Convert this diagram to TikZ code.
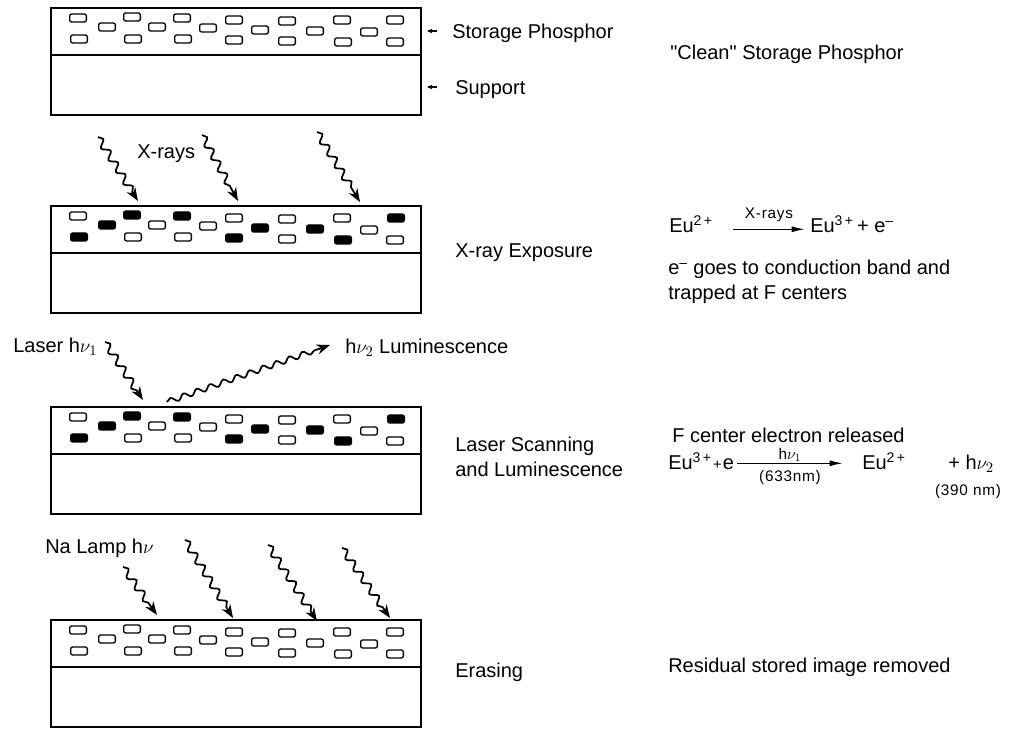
\documentclass[tikz,border=0pt]{standalone}
\usepackage{fontspec}
\setmainfont{Liberation Sans}
\usetikzlibrary{arrows.meta, positioning, calc, decorations.pathmorphing}

\newcommand{\cleangrains}{27/10/gopen, 81/9/gopen, 131/10/gopen, 183/12/gopen, 236/13/gopen, 291/12/gopen, 344/12/gopen,
  56/19/gopen, 106/19/gopen, 157/20/gopen, 209/22/gopen, 264/23/gopen, 318/24/gopen,
  28/31/gopen, 82/31/gopen, 132/31/gopen, 183/32/gopen, 236/33/gopen, 292/34/gopen, 344/34/gopen}
\newcommand{\litgrains}{27/10/gopen, 81/9/gfull, 131/10/gfull, 183/12/gopen, 236/13/gopen, 291/12/gopen, 345/12/gfull,
  56/19/gfull, 106/19/gopen, 157/20/gopen, 209/22/gfull, 264/23/gfull, 318/24/gopen,
  28/31/gfull, 82/31/gopen, 132/31/gopen, 183/32/gfull, 236/33/gopen, 292/34/gfull, 344/34/gopen}

\newcommand{\phplate}[3]{%
  \node[plate] (#1) at (51,#2) {};
  \draw[layer] ($(#1.north west)+(0,47)$) coordinate (#1-l) -- ($(#1.north east)+(0,47)$) coordinate (#1-r);
  \foreach \gx/\gy/\gs [count=\k] in #3
    \node[\gs] (#1-g\k) at ($(#1.north west)+(\gx,\gy)$) {};
}
\newcommand{\smplus}{\kern1pt{\fontsize{11}{13}\selectfont+}\kern1pt}

\tikzset{
  plate/.style={draw, line width=1.2pt, anchor=north west, minimum width=277.5pt, minimum height=80.25pt, inner sep=0pt, outer sep=0pt},
  layer/.style={line width=1.1pt},
  gopen/.style={draw, line width=1pt, rounded corners=1.5pt, minimum width=12.5pt, minimum height=6pt, inner sep=0pt},
  gfull/.style={gopen, fill=black},
  lbl/.style={inner sep=0pt, anchor=west, font=\fontsize{15}{18}\selectfont, text height=10.8pt, text depth=0pt},
  sml/.style={inner sep=0pt, font=\fontsize{11.5}{13}\selectfont\addfontfeature{LetterSpace=5}},
  ray/.style={line width=1.3pt, decorate, decoration={snake, amplitude=2.6pt, segment length=10.5pt, post length=8pt}, -{Stealth[length=10pt,width=7.5pt]}},
  ptr/.style={line width=0.9pt, -{Stealth[length=4pt,width=3.5pt]}},
  rxn/.style={line width=1.1pt, -{Latex[length=10pt,width=4.5pt]}}
}

\begin{document}
\begin{tikzpicture}[x=0.75pt, y=-0.75pt]
  \useasboundingbox (0,0) rectangle (1013,730);

  \phplate{clean}{8}{\cleangrains}
  \phplate{expo}{206}{\litgrains}
  \phplate{scan}{407}{\litgrains}
  \phplate{erase}{620}{\cleangrains}

  \node[lbl] (sp) at (452,31) {Storage Phosphor};
  \node[lbl] (su) at (455,87) {Support};
  \coordinate (spTip) at (427,31);
  \coordinate (suTip) at (427,87);
  \draw[ptr] ([xshift=-11pt]sp.west) -- (spTip);
  \draw[ptr] ([xshift=-13.5pt]su.west) -- (suTip);
  \node[lbl] (cleanTxt) at (670,52) {\textquotedbl Clean\textquotedbl\ Storage Phosphor};

  \foreach \n/\ax/\ay/\bx/\by in {x1/98/137/138/201, x2/202/135/238/201, x3/317/132/360/202,
      l1/105/342/143/400, n1/123/567/157/615, n2/185/540/233/618, n3/268/545/317/621, n4/342/548/390/618}{
    \coordinate (\n-s) at (\ax,\ay);
    \coordinate (\n-e) at (\bx,\by);
    \draw[ray] (\n-s) -- (\n-e);
  }
  \coordinate (lum-s) at (167,402);
  \coordinate (lum-e) at (330,345);
  \draw[ray, decoration={amplitude=2pt, segment length=10.5pt, post length=8pt}] (lum-s) -- (lum-e);

  \node[lbl] (xrTxt) at (137,151.5) {X-rays};
  \node[lbl] (expoTxt) at (455,250.5) {X-ray Exposure};
  \node[lbl] (euA) at (669,225) {Eu\textsuperscript{2\,+}};
  \coordinate (rxA1) at (733,229.3);
  \coordinate (rxA2) at (805,229.3);
  \draw[rxn] (rxA1) -- node[sml, above=5pt] (rxAl) {X-rays} (rxA2);
  \node[lbl] (euB) at (810,225) {Eu\textsuperscript{3\,+}\,+ e\textsuperscript{–}};
  \node[lbl] (goes) at (668,267) {e\textsuperscript{–} goes to conduction band and};
  \node[lbl] (trap) at (668,292) {trapped at F centers};

  \node[lbl] (laserTxt) at (13,345) {Laser h$\nu_1$};
  \node[lbl] (lumTxt) at (345,346.5) {h$\nu_2$ Luminescence};
  \node[lbl] (scanTxt) at (455,444) {Laser Scanning};
  \node[lbl] (scanTxt2) at (455,469) {and Luminescence};
  \node[lbl] (fc) at (672,435) {F center electron released};
  \node[lbl] (euC) at (668,462.5) {Eu\textsuperscript{3\,+}\smplus e};
  \coordinate (rxB1) at (737,463.3);
  \coordinate (rxB2) at (843,463.3);
  \draw[rxn] (rxB1) -- node[sml, above=0.5pt] (rxBl) {h$\nu_1$} node[sml, below=5pt] (rxBn) {(633nm)} (rxB2);
  \node[lbl] (euD) at (862,462.5) {Eu\textsuperscript{2\,+}};
  \node[lbl] (hv2) at (948,462.5) {+ h$\nu_2$};
  \node[sml] (nm390) at (968,492) {(390 nm)};

  \node[lbl] (naTxt) at (45,546.5) {Na Lamp h$\nu$};
  \node[lbl] (eraseTxt) at (455,670.5) {Erasing};
  \node[lbl] (resid) at (668,665.5) {Residual stored image removed};
\end{tikzpicture}
\end{document}
